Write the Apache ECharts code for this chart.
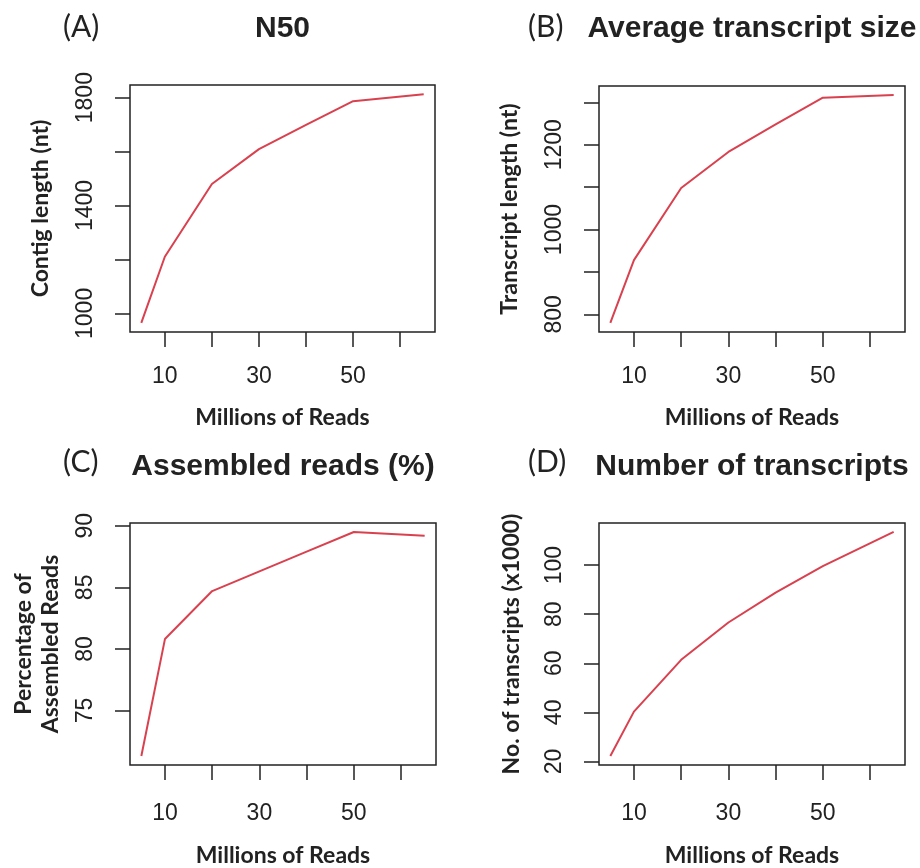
<!DOCTYPE html>
<html>
<head>
<meta charset="utf-8">
<script src="https://cdn.jsdelivr.net/npm/echarts@6/dist/echarts.min.js"></script>
<style>
html,body{margin:0;padding:0;background:#fff;}
#chart{width:920px;height:868px;}
</style>
</head>
<body>
<div id="chart"></div>
<script>
// ---- data ----
var reads = [5, 10, 20, 30, 40, 50, 65];            // Millions of reads
var n50 = [965, 1210, 1480, 1609, 1699, 1787, 1813];  // Contig length (nt)
var avgSize = [780, 928, 1098, 1183, 1248, 1311, 1317]; // Transcript length (nt)
var assembledPct = [71.3, 80.8, 84.7, 86.3, 87.9, 89.5, 89.2]; // %
var numTranscripts = [22.2, 40.3, 61.4, 76.6, 88.8, 99.6, 113.5]; // x1000

var xTicks = [10, 20, 30, 40, 50, 60];
var xLabels = [10, 30, 50];
var yTicksA = [1000, 1200, 1400, 1600, 1800];
var yLabelsA = [1000, 1400, 1800];
var yTicksB = [800, 900, 1000, 1100, 1200, 1300];
var yLabelsB = [800, 1000, 1200];
var yTicksC = [75, 80, 85, 90];
var yLabelsC = [75, 80, 85, 90];
var yTicksD = [20, 40, 60, 80, 100];
var yLabelsD = [20, 40, 60, 80, 100];

var panelTags = ['(A)', '(B)', '(C)', '(D)'];
var panelTitles = ['N50', 'Average transcript size', 'Assembled reads (%)', 'Number of transcripts'];
var yNames = ['Contig length (nt)', 'Transcript length (nt)', 'Percentage of\nAssembled Reads', 'No. of transcripts (x1000)'];
var xName = 'Millions of Reads';

// ---- helpers ----
function pad(arr) {
  var lo = Math.min.apply(null, arr), hi = Math.max.apply(null, arr);
  var d = (hi - lo) * 0.04;
  return [lo - d, hi + d];
}
function plain(v) { return String(v); }
var ink = '#222';
var lineColor = '#D9414F';
var tickFont = 'Liberation Sans';
var nameFont = 'Lato';

var grids = [
  {left: 130, top: 85, width: 305, height: 247},
  {left: 599, top: 86, width: 306, height: 246},
  {left: 130, top: 523, width: 306, height: 244},
  {left: 599, top: 523, width: 306, height: 244}
];
var series = [n50, avgSize, assembledPct, numTranscripts];
var yTicks = [yTicksA, yTicksB, yTicksC, yTicksD];
var yLabels = [yLabelsA, yLabelsB, yLabelsC, yLabelsD];
var yNameGaps = [76, 76, 66, 74];
var xNameGaps = [74, 74, 79, 79];
var xLabelMargins = [33, 33, 37, 37];

var xr = pad(reads);
var option = {
  animation: false,
  backgroundColor: '#fff',
  grid: grids.map(function (g) {
    return Object.assign({show: true, borderColor: ink, borderWidth: 1.5, backgroundColor: 'transparent', containLabel: false}, g);
  }),
  xAxis: grids.map(function (g, i) {
    return {
      type: 'value', gridIndex: i, min: xr[0], max: xr[1],
      axisLine: {show: false},
      splitLine: {show: false},
      axisTick: {show: true, length: 15, lineStyle: {color: ink, width: 1.5}, customValues: xTicks},
      axisLabel: {show: true, margin: xLabelMargins[i], color: ink, fontFamily: tickFont, fontSize: 23, customValues: xLabels, formatter: plain},
      name: xName, nameLocation: 'middle', nameGap: xNameGaps[i],
      nameTextStyle: {color: ink, fontFamily: nameFont, fontWeight: 'bold', fontSize: 23}
    };
  }),
  yAxis: grids.map(function (g, i) {
    var r = pad(series[i]);
    return {
      type: 'value', gridIndex: i, min: r[0], max: r[1],
      axisLine: {show: false},
      splitLine: {show: false},
      axisTick: {show: true, length: 15, lineStyle: {color: ink, width: 1.5}, customValues: yTicks[i]},
      axisLabel: {show: true, rotate: 90, margin: 33, color: ink, fontFamily: tickFont, fontSize: 23, customValues: yLabels[i], formatter: plain},
      name: yNames[i], nameLocation: 'middle', nameGap: yNameGaps[i], nameRotate: 90,
      nameTextStyle: {color: ink, fontFamily: nameFont, fontWeight: 'bold', fontSize: 23, lineHeight: 27}
    };
  }),
  series: series.map(function (vals, i) {
    return {
      type: 'line', xAxisIndex: i, yAxisIndex: i,
      data: reads.map(function (x, k) { return [x, vals[k]]; }),
      showSymbol: false, symbol: 'none',
      lineStyle: {color: lineColor, width: 2}
    };
  }),
  graphic: [
    {type: 'text', x: 63, y: 27, style: {text: panelTags[0], font: '30px Lato', fill: ink, align: 'left', verticalAlign: 'middle'}},
    {type: 'text', x: 528, y: 27, style: {text: panelTags[1], font: '30px Lato', fill: ink, align: 'left', verticalAlign: 'middle'}},
    {type: 'text', x: 63, y: 462, style: {text: panelTags[2], font: '30px Lato', fill: ink, align: 'left', verticalAlign: 'middle'}},
    {type: 'text', x: 528, y: 462, style: {text: panelTags[3], font: '30px Lato', fill: ink, align: 'left', verticalAlign: 'middle'}},
    {type: 'text', x: 282.5, y: 29, style: {text: panelTitles[0], font: 'bold 30px "Liberation Sans"', fill: ink, align: 'center', verticalAlign: 'middle'}},
    {type: 'text', x: 752, y: 29, style: {text: panelTitles[1], font: 'bold 30px "Liberation Sans"', fill: ink, align: 'center', verticalAlign: 'middle'}},
    {type: 'text', x: 283, y: 467, style: {text: panelTitles[2], font: 'bold 30px "Liberation Sans"', fill: ink, align: 'center', verticalAlign: 'middle'}},
    {type: 'text', x: 752, y: 467, style: {text: panelTitles[3], font: 'bold 30px "Liberation Sans"', fill: ink, align: 'center', verticalAlign: 'middle'}}
  ]
};

var chart = echarts.init(document.getElementById('chart'), null, {renderer: 'canvas'});
chart.setOption(option);
</script>
</body>
</html>
